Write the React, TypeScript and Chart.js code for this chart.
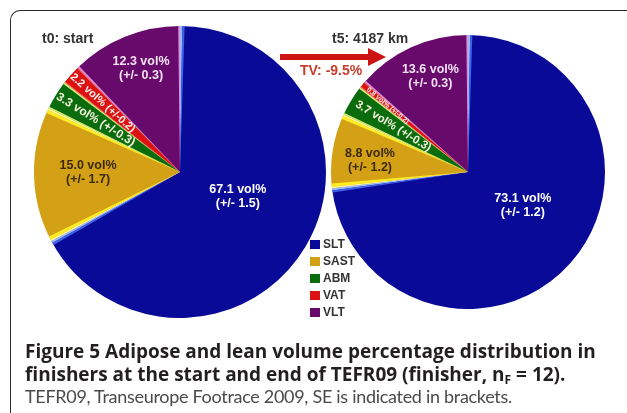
import React, { useEffect, useRef } from 'react';
import { Chart, registerables } from 'chart.js';

Chart.register(...registerables);

// ---- data ----
const categories = ['SLT', 'SAST', 'ABM', 'VAT', 'VLT'];
const startValues = [67.1, 15.0, 3.3, 2.2, 12.3];
const startSE = [1.5, 1.7, 0.3, 0.2, 0.3];
const endValues = [73.1, 8.8, 3.7, 0.8, 13.6];
const endSE = [1.2, 1.2, 0.3, 0.2, 0.3];
const startTitle = 't0: start';
const endTitle = 't5: 4187 km';
const changeLabel = 'TV: -9.5%';

// ---- styles ----
const sliceColors = ['#0a0a98', '#d4a016', '#0b6c0e', '#dc1212', '#680a6c'];
const edgeBands: [string, number][][] = [
  [['#9ab8ff', 0.9], ['#3f63e6', 0.9]],
  [['#fff8a0', 0.7], ['#ffee22', 1.3]],
  [['#d8ee70', 0.7]],
  [['#ff7a7a', 0.4]],
  [['#d890d8', 0.7]],
];
const labelColors = ['#ffffff', '#3a2a08', '#f4f4dc', '#fff0f0', '#f2e2f2'];

type LabelCfg = { r: number; d: number; radial?: boolean; size: number };
const startLayout: LabelCfg[] = [
  { r: 0.43, d: -8, size: 12.5 },
  { r: 0.63, d: 0.8, size: 12.5 },
  { r: 0.68, d: 0, radial: true, size: 12 },
  { r: 0.71, d: 0, radial: true, size: 11 },
  { r: 0.76, d: 1.6, size: 12.5 },
];
const endLayout: LabelCfg[] = [
  { r: 0.47, d: -10, size: 12.5 },
  { r: 0.72, d: -2.6, size: 12.5 },
  { r: 0.64, d: 0, radial: true, size: 11.5 },
  { r: 0.76, d: 0, radial: true, size: 7 },
  { r: 0.75, d: 3, size: 12.5 },
];

const FONT = '"Liberation Sans", Arial, sans-serif';

const sliceDecor = {
  id: 'sliceDecor',
  afterDatasetsDraw(chart: any, _args: any, opts: any) {
    const ctx: CanvasRenderingContext2D = chart.ctx;
    const meta = chart.getDatasetMeta(0);
    const values: number[] = chart.data.datasets[0].data;
    const se: number[] = opts.se;
    const layout: LabelCfg[] = opts.layout;
    ctx.save();
    meta.data.forEach((arc: any, i: number) => {
      const p = arc.getProps(['x', 'y', 'startAngle', 'endAngle', 'outerRadius'], true);
      let off = 0;
      for (const [color, deg] of edgeBands[i]) {
        const w = (deg * Math.PI) / 180;
        ctx.fillStyle = color;
        ctx.beginPath();
        ctx.moveTo(p.x, p.y);
        ctx.arc(p.x, p.y, p.outerRadius, p.startAngle + off, p.startAngle + off + w);
        ctx.closePath();
        ctx.fill();
        ctx.beginPath();
        ctx.moveTo(p.x, p.y);
        ctx.arc(p.x, p.y, p.outerRadius, p.endAngle - off - w, p.endAngle - off);
        ctx.closePath();
        ctx.fill();
        off += w;
      }
    });
    meta.data.forEach((arc: any, i: number) => {
      const p = arc.getProps(['x', 'y', 'startAngle', 'endAngle', 'outerRadius'], true);
      const cfg = layout[i];
      const mid = (p.startAngle + p.endAngle) / 2 + (cfg.d * Math.PI) / 180;
      const cx = p.x + Math.cos(mid) * p.outerRadius * cfg.r;
      const cy = p.y + Math.sin(mid) * p.outerRadius * cfg.r;
      ctx.fillStyle = labelColors[i];
      ctx.font = `bold ${cfg.size}px ${FONT}`;
      ctx.textAlign = 'center';
      ctx.textBaseline = 'middle';
      const v = values[i].toFixed(1);
      if (cfg.radial) {
        ctx.save();
        ctx.translate(cx, cy);
        ctx.rotate(mid + Math.PI);
        ctx.fillText(`${v} vol% (+/-${se[i].toFixed(1)})`, 0, 0);
        ctx.restore();
      } else {
        ctx.fillText(`${v} vol%`, cx, cy - 7);
        ctx.fillText(`(+/- ${se[i].toFixed(1)})`, cx, cy + 7);
      }
    });
    ctx.restore();
  },
};

function makePie(canvas: HTMLCanvasElement, values: number[], se: number[], layout: LabelCfg[]) {
  return new Chart(canvas, {
    type: 'pie',
    data: {
      labels: categories,
      datasets: [{ data: values, backgroundColor: sliceColors, borderWidth: 0 }],
    },
    options: {
      responsive: false,
      animation: false,
      layout: { padding: 0 },
      plugins: {
        legend: { display: false },
        tooltip: { enabled: false },
        // @ts-ignore
        sliceDecor: { se, layout },
      },
    },
    plugins: [sliceDecor],
  } as any);
}

export default function App() {
  const leftRef = useRef<HTMLCanvasElement>(null);
  const rightRef = useRef<HTMLCanvasElement>(null);

  useEffect(() => {
    const a = makePie(leftRef.current!, startValues, startSE, startLayout);
    const b = makePie(rightRef.current!, endValues, endSE, endLayout);
    return () => {
      a.destroy();
      b.destroy();
    };
  }, []);

  const abs = (s: React.CSSProperties): React.CSSProperties => ({ position: 'absolute', ...s });

  return (
    <div
      style={{
        position: 'fixed',
        left: 0,
        top: 0,
        width: 627,
        height: 413,
        overflow: 'hidden',
        background: '#ffffff',
        fontFamily: FONT,
      }}
    >
      <div
        style={abs({
          left: 10,
          top: 10,
          width: 640,
          height: 460,
          borderTop: '1.5px solid #2a2a2a',
          borderLeft: '1.5px solid #2a2a2a',
          borderRight: '1.5px solid #2a2a2a',
          borderTopLeftRadius: 10,
          borderTopRightRadius: 10,
          boxSizing: 'border-box',
        })}
      />
      <canvas ref={leftRef} width={292} height={292} style={abs({ left: 34, top: 26, width: 292, height: 292 })} />
      <canvas ref={rightRef} width={274} height={274} style={abs({ left: 331, top: 35, width: 274, height: 274 })} />

      <div style={abs({ left: 42, top: 30, fontSize: 14, lineHeight: '16px', fontWeight: 'bold', color: '#333', whiteSpace: 'nowrap' })}>
        {startTitle}
      </div>
      <div style={abs({ left: 332, top: 30, fontSize: 14, lineHeight: '16px', fontWeight: 'bold', color: '#333', whiteSpace: 'nowrap' })}>
        {endTitle}
      </div>
      <svg width={627} height={413} style={abs({ left: 0, top: 0, pointerEvents: 'none' })}>
        <polygon points="280,54 368,54 368,48 386,57 368,66 368,60 280,60" fill="#cc1414" />
      </svg>
      <div style={abs({ left: 300, top: 62, fontSize: 14, lineHeight: '16px', fontWeight: 'bold', color: '#c83c2c', whiteSpace: 'nowrap' })}>
        {changeLabel}
      </div>

      <div style={abs({ left: 310, top: 236 })}>
        {categories.map((c, i) => (
          <div key={c} style={{ display: 'flex', alignItems: 'center', height: 17 }}>
            <span style={{ display: 'inline-block', width: 10, height: 9, background: sliceColors[i], marginRight: 3 }} />
            <span style={{ fontSize: 12, fontWeight: 'bold', color: '#333', lineHeight: '17px' }}>{c}</span>
          </div>
        ))}
      </div>

      <div style={abs({ left: 25, top: 340, fontSize: 19, lineHeight: '22.5px', whiteSpace: 'nowrap' })}>
        <div style={{ fontFamily: '"Open Sans", Lato, sans-serif', fontWeight: 700, color: '#231f20' }}>
          Figure 5 Adipose and lean volume percentage distribution in
        </div>
        <div style={{ fontFamily: '"Open Sans", Lato, sans-serif', fontWeight: 700, color: '#231f20' }}>
          finishers at the start and end of TEFR09 (finisher, n
          <sub style={{ fontSize: 12, verticalAlign: '-3px', lineHeight: 0 }}>F</sub> = 12).
        </div>
        <div style={{ fontFamily: 'Lato, sans-serif', fontSize: 18, letterSpacing: '-0.3px', color: '#4a4a4a' }}>
          TEFR09, Transeurope Footrace 2009, SE is indicated in brackets.
        </div>
      </div>
    </div>
  );
}
